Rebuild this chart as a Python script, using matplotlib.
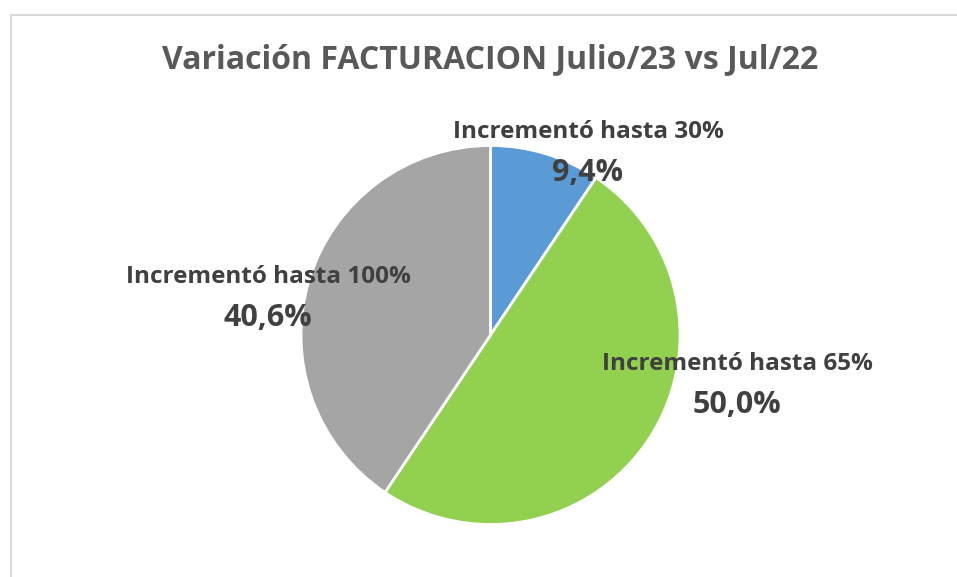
import matplotlib.pyplot as plt
from matplotlib.patches import Rectangle

plt.rcParams['font.family'] = ['Open Sans', 'DejaVu Sans']

# data
categories = ['Incrementó hasta 30%', 'Incrementó hasta 65%', 'Incrementó hasta 100%']
shares = [9.4, 50.0, 40.6]
colors = ['#5B9BD5', '#92D050', '#A5A5A5']
title = 'Variación FACTURACION Julio/23 vs Jul/22'

# label centres in pixels (x, y from top)
label_pos = [(588, 132), (737, 364), (268, 277)]

W, H = 957, 577
fig = plt.figure(figsize=(W / 100, H / 100), dpi=100)
ax = fig.add_axes([0, 0, 1, 1])

# chart frame (only top and left edges are visible in the crop)
fig.patches.append(Rectangle((10.5 / W, -0.1), 1.2, 1.1 - 14.5 / H, transform=fig.transFigure,
                             fill=False, edgecolor='#D9D9D9', linewidth=1.5))

ax.pie(shares, colors=colors, startangle=90, counterclock=False,
       center=(490.5, H - 335), radius=189.5,
       wedgeprops=dict(edgecolor='white', linewidth=2))
# pie() resets the limits, so set them afterwards
ax.set_xlim(0, W)
ax.set_ylim(0, H)
ax.set_aspect('equal')
ax.axis('off')

for cat, val, (x, y) in zip(categories, shares, label_pos):
    ax.text(x, H - y, cat, ha='center', va='center', fontsize=17.5,
            fontweight='bold', color='#404040')
    ax.text(x, H - y - 41, f'{val:.1f}%'.replace('.', ','), ha='center', va='center',
            fontsize=22, fontweight='bold', color='#404040')

ax.text(490.5, H - 60, title, ha='center', va='center', fontsize=23,
        fontweight='bold', color='#595959')

fig.savefig('out.png', dpi=100)
